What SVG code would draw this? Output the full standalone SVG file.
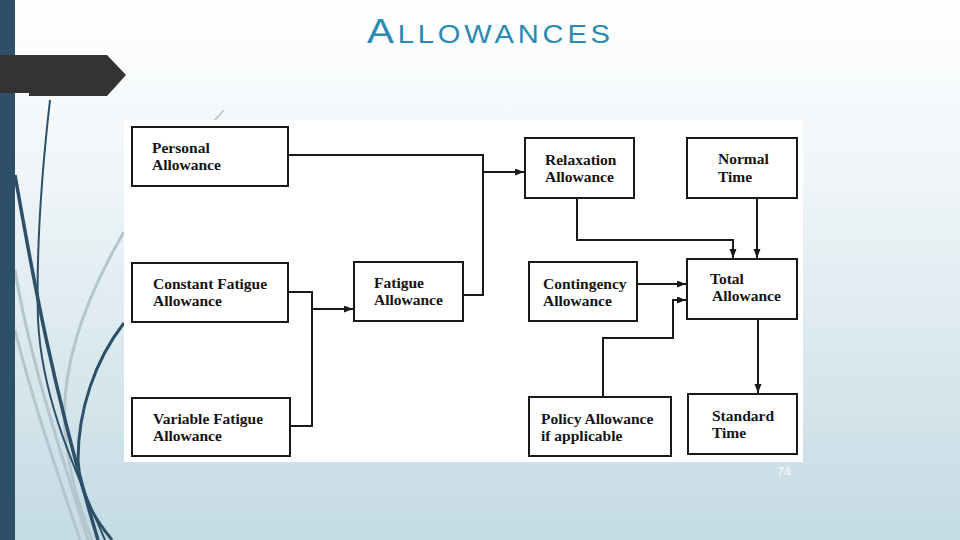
<svg xmlns="http://www.w3.org/2000/svg" width="960" height="540" viewBox="0 0 960 540">
  <defs>
    <linearGradient id="bg" x1="0" y1="0" x2="0" y2="1">
      <stop offset="0" stop-color="#ffffff"/>
      <stop offset="0.35" stop-color="#eef4f7"/>
      <stop offset="1" stop-color="#c4dbe3"/>
    </linearGradient>
    <marker id="arr" markerUnits="userSpaceOnUse" markerWidth="10" markerHeight="8" refX="9" refY="3.5" orient="auto">
      <path d="M0,0 L9,3.5 L0,7 z" fill="#1a1a1a"/>
    </marker>
    <style>
      .box { fill: #ffffff; stroke: #1a1a1a; stroke-width: 2; }
      .lbl { font-family: "Liberation Serif", "Times New Roman", serif; font-weight: bold; font-size: 15.5px; fill: #141414; }
      .con { fill: none; stroke: #1a1a1a; stroke-width: 2; }
      .dk { fill: none; stroke: #2d5068; }
      .lt { fill: none; stroke: #b3c6cd; }
    </style>
  </defs>

  <!-- background -->
  <rect x="0" y="0" width="960" height="540" fill="url(#bg)"/>

  <!-- decorative curves -->
  <g id="decor">
    <path class="lt" stroke-width="3" d="M15,270 C30,360 60,450 88,540"/>
    <path class="lt" stroke-width="3" d="M15,330 C35,410 60,480 80,540"/>
    <path class="lt" stroke-width="3" d="M124,232 C90,290 60,360 65,430 C68,470 80,510 92,540"/>
    <path class="lt" stroke-width="1.5" d="M214,121 L224,110"/>
    <path class="dk" stroke-width="2" d="M50,100 C42,170 36,250 38,320 C42,400 75,470 105,540"/>
    <path class="dk" stroke-width="3.5" d="M15,175 C30,260 50,380 98,540"/>
    <path class="dk" stroke-width="3" d="M124,323 C95,360 78,410 78,460 C80,500 100,525 112,540"/>
    <rect x="0" y="0" width="15" height="540" fill="#2d5068"/>
    <path d="M0,55 L107,55 L126,75 L107,96 L29,96 L29,93 L0,93 z" fill="#333333"/>
  </g>

  <!-- title -->
  <text transform="translate(367,43) scale(1.12,1)" x="0" y="0" textLength="217" lengthAdjust="spacing" font-family="'Liberation Sans', Arial, sans-serif" fill="#2a8ab0"><tspan font-size="36">A</tspan><tspan font-size="26">LLOWANCES</tspan></text>

  <!-- diagram background -->
  <rect x="124" y="120" width="679" height="342" fill="#ffffff"/>

  <!-- connectors -->
  <g id="connectors">
    <path class="con" d="M288,155 H483 V295 H463"/>
    <path class="con" d="M483,172 H524" marker-end="url(#arr)"/>
    <path class="con" d="M288,292 H312 V426 H290"/>
    <path class="con" stroke-width="1.5" d="M312,309 H353" marker-end="url(#arr)"/>
    <path class="con" d="M577,198 V240 H733 V258" marker-end="url(#arr)"/>
    <path class="con" d="M757,198 V258" marker-end="url(#arr)"/>
    <path class="con" d="M637,284 H686" marker-end="url(#arr)"/>
    <path class="con" stroke-width="1.5" d="M603,397 V338 H673 V300 H686" marker-end="url(#arr)"/>
    <path class="con" d="M758,319 V393" marker-end="url(#arr)"/>
  </g>

  <!-- nodes -->
  <g id="personal">
    <rect class="box" x="132" y="127" width="156" height="59"/>
    <text class="lbl" x="152" y="153">Personal</text>
    <text class="lbl" x="152" y="170">Allowance</text>
  </g>
  <g id="constant-fatigue">
    <rect class="box" x="132" y="263" width="156" height="59"/>
    <text class="lbl" x="153" y="289">Constant Fatigue</text>
    <text class="lbl" x="153" y="306">Allowance</text>
  </g>
  <g id="variable-fatigue">
    <rect class="box" x="132" y="398" width="158" height="58"/>
    <text class="lbl" x="153" y="424">Variable Fatigue</text>
    <text class="lbl" x="153" y="441">Allowance</text>
  </g>
  <g id="fatigue">
    <rect class="box" x="354" y="262" width="109" height="59"/>
    <text class="lbl" x="374" y="288">Fatigue</text>
    <text class="lbl" x="374" y="305">Allowance</text>
  </g>
  <g id="relaxation">
    <rect class="box" x="525" y="138" width="109" height="60"/>
    <text class="lbl" x="545" y="165">Relaxation</text>
    <text class="lbl" x="545" y="182">Allowance</text>
  </g>
  <g id="normal-time">
    <rect class="box" x="687" y="138" width="110" height="60"/>
    <text class="lbl" x="718" y="164">Normal</text>
    <text class="lbl" x="718" y="182">Time</text>
  </g>
  <g id="contingency">
    <rect class="box" x="529" y="262" width="108" height="59"/>
    <text class="lbl" x="543" y="289">Contingency</text>
    <text class="lbl" x="543" y="306">Allowance</text>
  </g>
  <g id="total">
    <rect class="box" x="687" y="259" width="110" height="60"/>
    <text class="lbl" x="710" y="284">Total</text>
    <text class="lbl" x="712" y="301">Allowance</text>
  </g>
  <g id="policy">
    <rect class="box" x="529" y="397" width="142" height="59"/>
    <text class="lbl" x="541" y="424">Policy Allowance</text>
    <text class="lbl" x="541" y="441">if applicable</text>
  </g>
  <g id="standard-time">
    <rect class="box" x="688" y="394" width="109" height="60"/>
    <text class="lbl" x="712" y="421">Standard</text>
    <text class="lbl" x="712" y="438">Time</text>
  </g>

  <!-- page number -->
  <text x="784" y="476" text-anchor="middle" font-family="'Liberation Sans', Arial, sans-serif" font-weight="bold" font-size="12" fill="#eef4f6">74</text>
</svg>
